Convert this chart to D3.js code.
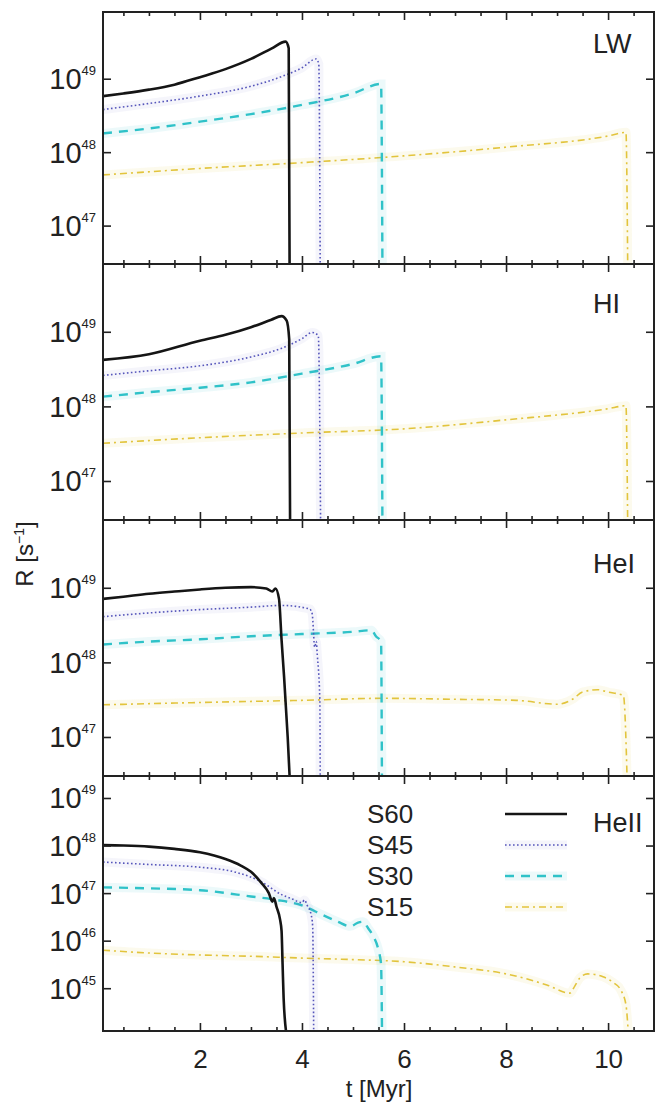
<!DOCTYPE html>
<html>
<head>
<meta charset="utf-8">
<script src="https://cdn.jsdelivr.net/npm/d3@7"></script>
<style>
body { margin: 0; background: #fff; }
text { font-family: "Liberation Sans", Arial, sans-serif; fill: #222; }
</style>
</head>
<body>
<div id="chart"></div>
<script>
// panel names and series names
const panelNames = ['LW', 'HI', 'HeI', 'HeII'];
const seriesNames = ['S60', 'S45', 'S30', 'S15'];
const xTickLabels = [2, 4, 6, 8, 10];
const yTicksUpper = [1e47, 1e48, 1e49];
const yTicksLower = [1e45, 1e46, 1e47, 1e48, 1e49];

// LW
const t_LW_S60 = [0.1, 0.5, 1.0, 1.5, 2.0, 2.5, 3.0, 3.4, 3.68, 3.74, 3.76];
const r_LW_S60 = [5.8e48, 6.3e48, 7.1e48, 8.3e48, 1.05e49, 1.35e49, 1.86e49, 2.57e49, 3.2e49, 2.6e49, 1e46];
const t_LW_S45 = [0.1, 1, 2, 3, 3.6, 4.0, 4.28, 4.33, 4.36];
const r_LW_S45 = [3.8e48, 4.6e48, 5.8e48, 7.9e48, 1.07e49, 1.41e49, 1.86e49, 1.58e49, 1e46];
const t_LW_S30 = [0.1, 1, 2, 3, 4, 5, 5.55, 5.58];
const r_LW_S30 = [1.8e48, 2.1e48, 2.6e48, 3.3e48, 4.4e48, 6.3e48, 8.5e48, 1e46];
const t_LW_S15 = [0.1, 2, 4, 6, 8, 10, 10.35, 10.39];
const r_LW_S15 = [4.9e47, 6.0e47, 7.2e47, 8.9e47, 1.17e48, 1.66e48, 1.86e48, 1e46];

// HI
const t_HI_S60 = [0.1, 1, 2, 2.5, 3, 3.4, 3.6, 3.7, 3.75, 3.77];
const r_HI_S60 = [4.2e48, 5.0e48, 7.6e48, 9.1e48, 1.15e49, 1.45e49, 1.62e49, 1.41e49, 7.9e48, 1e46];
const t_HI_S45 = [0.1, 1, 2, 3, 3.6, 4.0, 4.2, 4.32, 4.37];
const r_HI_S45 = [2.6e48, 3.0e48, 3.5e48, 4.6e48, 6.0e48, 8.1e48, 9.8e48, 8.9e48, 1e46];
const t_HI_S30 = [0.1, 1, 2, 3, 4, 5, 5.55, 5.58];
const r_HI_S30 = [1.35e48, 1.55e48, 1.78e48, 2.1e48, 2.75e48, 3.7e48, 4.7e48, 1e46];
const t_HI_S15 = [0.1, 2, 4, 6, 8, 10, 10.35, 10.39];
const r_HI_S15 = [3.2e47, 3.8e47, 4.4e47, 5.0e47, 6.6e47, 9.3e47, 1.02e48, 1e46];

// HeI
const t_HeI_S60 = [0.1, 0.5, 1, 1.5, 2, 2.5, 3.0, 3.3, 3.42, 3.48, 3.55, 3.6, 3.65, 3.72, 3.77];
const r_HeI_S60 = [7.1e48, 7.6e48, 8.3e48, 8.9e48, 9.5e48, 1.0e49, 1.02e49, 9.8e48, 8.9e48, 9.8e48, 7.1e48, 2.0e48, 6.3e47, 1.0e47, 2.0e46];
const t_HeI_S45 = [0.1, 1, 2, 3, 3.6, 4.15, 4.2, 4.25, 4.28, 4.3, 4.35, 4.36];
const r_HeI_S45 = [4.1e48, 4.6e48, 5.1e48, 5.5e48, 5.8e48, 5.2e48, 4.5e48, 1.6e48, 1.9e48, 1.26e48, 3.2e47, 1e46];
const t_HeI_S30 = [0.1, 1, 2, 3, 4, 5, 5.36, 5.45, 5.55, 5.57];
const r_HeI_S30 = [1.74e48, 1.9e48, 2.04e48, 2.24e48, 2.4e48, 2.57e48, 2.7e48, 2.24e48, 1.9e48, 1e46];
const t_HeI_S15 = [0.1, 2, 4, 5.6, 7, 8.2, 9.0, 9.3, 9.5, 9.8, 10.0, 10.3, 10.39];
const r_HeI_S15 = [2.7e47, 2.9e47, 3.1e47, 3.3e47, 3.2e47, 3.1e47, 2.75e47, 3.2e47, 4.0e47, 4.3e47, 4.0e47, 3.6e47, 1e46];

// HeII
const t_HeII_S60 = [0.1, 0.5, 1, 1.5, 2, 2.5, 2.8, 3.0, 3.2, 3.35, 3.42, 3.45, 3.5, 3.57, 3.6, 3.62, 3.64, 3.7];
const r_HeII_S60 = [1.02e48, 1.0e48, 9.5e47, 8.5e47, 7.2e47, 5.2e47, 3.8e47, 2.8e47, 1.66e47, 1.0e47, 6.6e46, 7.9e46, 5.2e46, 2.8e46, 1.6e46, 3.2e45, 6.3e44, 1e44];
const t_HeII_S45 = [0.1, 1, 2, 2.7, 3.2, 3.6, 3.8, 4.0, 4.05, 4.1, 4.18, 4.21, 4.23];
const r_HeII_S45 = [4.5e47, 4.0e47, 3.5e47, 2.75e47, 1.74e47, 9.3e46, 7.6e46, 6.3e46, 7.2e46, 5.6e46, 3.5e46, 2.0e46, 1e44];
const t_HeII_S30 = [0.1, 1, 2, 3, 3.5, 4.0, 4.4, 4.7, 4.95, 5.1, 5.2, 5.3, 5.4, 5.5, 5.55, 5.57];
const r_HeII_S30 = [1.32e47, 1.26e47, 1.15e47, 8.5e46, 7.2e46, 5.5e46, 3.5e46, 2.5e46, 2.0e46, 2.4e46, 2.5e46, 1.8e46, 1.23e46, 6.3e45, 3.2e45, 1e44];
const t_HeII_S15 = [0.1, 1, 2, 3, 4, 5, 6, 7, 8, 8.8, 9.25, 9.35, 9.45, 9.6, 9.9, 10.1, 10.25, 10.35, 10.4];
const r_HeII_S15 = [6.3e45, 5.5e45, 5.0e45, 4.7e45, 4.3e45, 4.0e45, 3.6e45, 2.8e45, 2.0e45, 1.17e45, 7.9e44, 1.12e45, 1.66e45, 2.0e45, 1.74e45, 1.32e45, 9.1e44, 4.5e44, 1e44];

const panelData = [
    [[t_LW_S60, r_LW_S60], [t_LW_S45, r_LW_S45], [t_LW_S30, r_LW_S30], [t_LW_S15, r_LW_S15]],
    [[t_HI_S60, r_HI_S60], [t_HI_S45, r_HI_S45], [t_HI_S30, r_HI_S30], [t_HI_S15, r_HI_S15]],
    [[t_HeI_S60, r_HeI_S60], [t_HeI_S45, r_HeI_S45], [t_HeI_S30, r_HeI_S30], [t_HeI_S15, r_HeI_S15]],
    [[t_HeII_S60, r_HeII_S60], [t_HeII_S45, r_HeII_S45], [t_HeII_S30, r_HeII_S30], [t_HeII_S15, r_HeII_S15]]
];

const w = 657;
const h = 1104;
const left = 103;
const right = 654;
const tops = [12, 264, 520, 776];
const bottoms = [264, 520, 776, 1031];
const yDomains = [[3.0e46, 8.1e49], [3.0e46, 8.1e49], [3.0e46, 8.1e49], [1.26e44, 2.9e49]];
const labelDy = [41, 49, 53, 56];

const styles = [
    {color: '#151515', dash: null, width: 2.6, glow: 0},
    {color: '#5555bb', dash: '1.6,2.4', width: 1.6, glow: 0.06},
    {color: '#2fc2c8', dash: '9,7', width: 2.4, glow: 0.09},
    {color: '#e2c43c', dash: '7,4,2,4', width: 1.6, glow: 0.09}
];

const svg = d3.select('#chart')
    .append('svg')
    .attr('width', w)
    .attr('height', h);

const xScale = d3.scaleLinear([0.1, 10.9], [left, right]);
const minorX = d3.range(0.5, 10.9, 0.5).filter(v => v % 2 !== 0);

function supLabel(text, d, bigSize, smallSize, rise) {
    const e = Math.round(Math.log10(d));
    text.text(null);
    text.append('tspan').attr('font-size', bigSize).text('10');
    text.append('tspan').attr('font-size', smallSize).attr('dy', -rise).text(e);
}

panelNames.forEach((name, i) => {
    const top = tops[i];
    const bottom = bottoms[i];
    const yScale = d3.scaleLog(yDomains[i], [bottom, top]);
    const yTicks = i === 3 ? yTicksLower : yTicksUpper;

    svg.append('clipPath')
        .attr('id', 'clip' + i)
        .append('rect')
        .attr('x', left)
        .attr('y', top)
        .attr('width', right - left)
        .attr('height', bottom - top);

    const line = d3.line()
        .x(d => xScale(d[0]))
        .y(d => yScale(d[1]))
        .curve(d3.curveMonotoneX);

    const g = svg.append('g').attr('clip-path', 'url(#clip' + i + ')');

    // draw S15 first so S60 ends up on top
    for (let s = 3; s >= 0; s--) {
        const pts = d3.zip(panelData[i][s][0], panelData[i][s][1]);
        const st = styles[s];
        if (st.glow > 0) {
            g.append('path')
                .attr('d', line(pts))
                .attr('fill', 'none')
                .attr('stroke', st.color)
                .attr('stroke-width', 9)
                .attr('stroke-opacity', st.glow);
        }
        g.append('path')
            .attr('d', line(pts))
            .attr('fill', 'none')
            .attr('stroke', st.color)
            .attr('stroke-width', st.width)
            .attr('stroke-dasharray', st.dash)
            .attr('stroke-linejoin', 'round');
    }

    // ticks, all pointing inward
    const tickStyle = g2 => g2.call(a => a.select('.domain').remove())
        .call(a => a.selectAll('.tick line').attr('stroke', '#222').attr('stroke-width', 1.6));

    svg.append('g')
        .attr('transform', 'translate(0,' + bottom + ')')
        .call(d3.axisBottom(xScale).tickValues(minorX).tickSize(-4).tickFormat(''))
        .call(tickStyle);
    svg.append('g')
        .attr('transform', 'translate(0,' + top + ')')
        .call(d3.axisTop(xScale).tickValues(minorX).tickSize(-4).tickFormat(''))
        .call(tickStyle);
    svg.append('g')
        .attr('transform', 'translate(0,' + top + ')')
        .call(d3.axisTop(xScale).tickValues(xTickLabels).tickSize(-8).tickFormat(''))
        .call(tickStyle);

    const xb = svg.append('g')
        .attr('transform', 'translate(0,' + bottom + ')')
        .call(d3.axisBottom(xScale).tickValues(xTickLabels).tickSize(-8).tickPadding(19)
            .tickFormat(i === 3 ? d3.format('d') : ''))
        .call(tickStyle);
    xb.selectAll('.tick text')
        .attr('font-size', 26)
        .attr('font-family', '"Liberation Sans", Arial, sans-serif')
        .attr('fill', '#222');

    const yl = svg.append('g')
        .attr('transform', 'translate(' + left + ',0)')
        .call(d3.axisLeft(yScale).tickValues(yTicks).tickSize(-8).tickPadding(7))
        .call(tickStyle);
    yl.selectAll('.tick text')
        .attr('dy', 10)
        .attr('font-family', '"Liberation Sans", Arial, sans-serif')
        .attr('fill', '#222')
        .each(function(d) { supLabel(d3.select(this), d, 29, 13, 14); });

    svg.append('g')
        .attr('transform', 'translate(' + right + ',0)')
        .call(d3.axisRight(yScale).tickValues(yTicks).tickSize(-8).tickFormat(''))
        .call(tickStyle);

    svg.append('rect')
        .attr('x', left)
        .attr('y', top)
        .attr('width', right - left)
        .attr('height', bottom - top)
        .attr('fill', 'none')
        .attr('stroke', '#222')
        .attr('stroke-width', 2);

    svg.append('text')
        .text(name)
        .attr('x', 593)
        .attr('y', top + labelDy[i])
        .attr('font-size', 27);
});

// legend in the bottom panel
const legend = svg.append('g');
seriesNames.forEach((s, k) => {
    const cy = 814 + k * 31;
    legend.append('text')
        .text(s)
        .attr('x', 367)
        .attr('y', cy + 9)
        .attr('font-size', 26);
    if (styles[k].glow > 0) {
        legend.append('line')
            .attr('x1', 505).attr('x2', 567)
            .attr('y1', cy).attr('y2', cy)
            .attr('stroke', styles[k].color)
            .attr('stroke-width', 9)
            .attr('stroke-opacity', styles[k].glow);
    }
    legend.append('line')
        .attr('x1', 505).attr('x2', 567)
        .attr('y1', cy).attr('y2', cy)
        .attr('stroke', styles[k].color)
        .attr('stroke-width', styles[k].width)
        .attr('stroke-dasharray', styles[k].dash);
});

// axis titles
svg.append('text')
    .attr('x', 379)
    .attr('y', 1097)
    .attr('text-anchor', 'middle')
    .attr('font-size', 24)
    .text('t [Myr]');

const ylab = svg.append('text')
    .attr('transform', 'translate(33,554) rotate(-90)')
    .attr('text-anchor', 'middle')
    .attr('font-size', 24);
ylab.append('tspan').text('R [s');
ylab.append('tspan').attr('font-size', 14).attr('dy', -9).text('−1');
ylab.append('tspan').attr('dy', 9).text(']');
</script>
</body>
</html>
